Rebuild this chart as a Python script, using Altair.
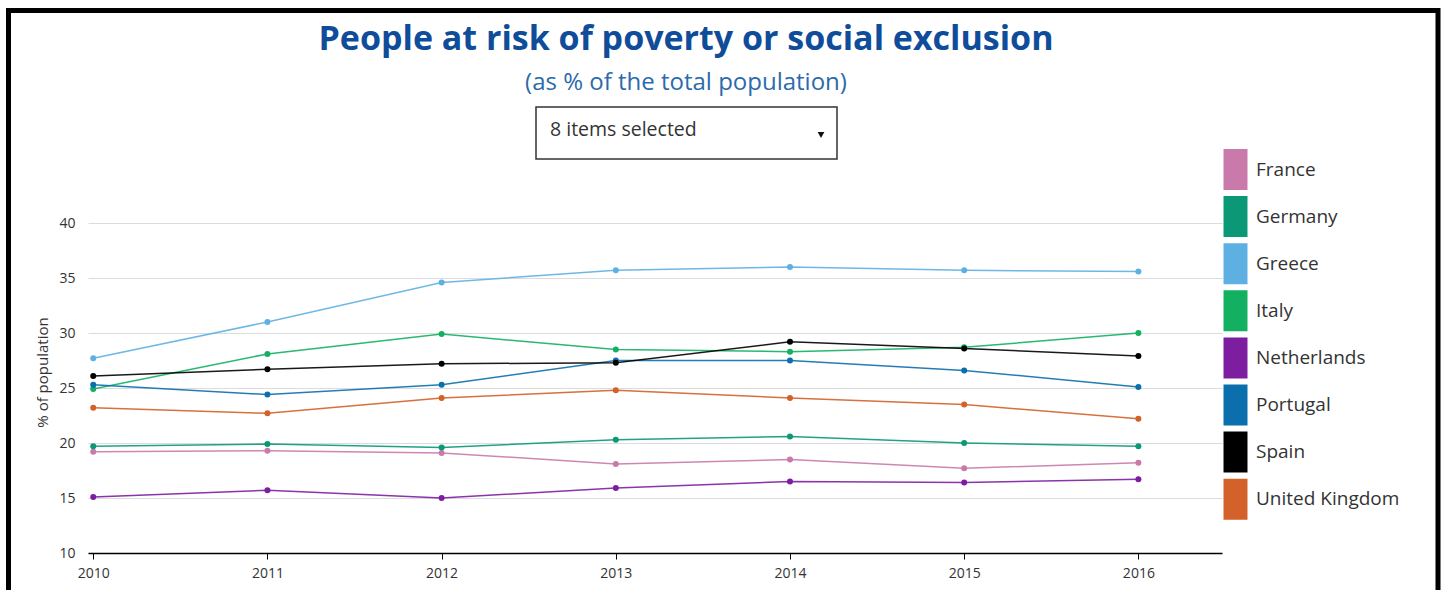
import altair as alt
import pandas as pd

years = [2010, 2011, 2012, 2013, 2014, 2015, 2016]
countries = ["France", "Germany", "Greece", "Italy", "Netherlands", "Portugal", "Spain", "United Kingdom"]
colors = ["#c97aab", "#0a9876", "#5fb0e2", "#12b060", "#7d1ea0", "#0b6fad", "#000000", "#d2612a"]

france = [19.2, 19.3, 19.1, 18.1, 18.5, 17.7, 18.2]
germany = [19.7, 19.9, 19.6, 20.3, 20.6, 20.0, 19.7]
greece = [27.7, 31.0, 34.6, 35.7, 36.0, 35.7, 35.6]
italy = [24.9, 28.1, 29.9, 28.5, 28.3, 28.7, 30.0]
netherlands = [15.1, 15.7, 15.0, 15.9, 16.5, 16.4, 16.7]
portugal = [25.3, 24.4, 25.3, 27.5, 27.5, 26.6, 25.1]
spain = [26.1, 26.7, 27.2, 27.3, 29.2, 28.6, 27.9]
uk = [23.2, 22.7, 24.1, 24.8, 24.1, 23.5, 22.2]

series = [france, germany, greece, italy, netherlands, portugal, spain, uk]
rows = []
for c, vals in zip(countries, series):
    for y, v in zip(years, vals):
        rows.append({"year": y, "country": c, "value": v})
df = pd.DataFrame(rows)

title_text = "People at risk of poverty or social exclusion"
subtitle_text = "(as % of the total population)"
dropdown_text = "8 items selected"

FONT = "Open Sans"

x_enc = alt.X("year:Q",
              scale=alt.Scale(domain=[2009.97, 2016.48], nice=False, zero=False),
              axis=alt.Axis(values=years, format="d", title=None, grid=False,
                            domainColor="#000000", domainWidth=1.5,
                            tickColor="#000000", tickSize=6, tickWidth=1,
                            labelFontSize=14, labelColor="#333333", labelPadding=7,
                            labelFont=FONT))
y_enc = alt.Y("value:Q",
              scale=alt.Scale(domain=[10, 40], nice=False, zero=False),
              axis=alt.Axis(values=[10, 15, 20, 25, 30, 35, 40], title="% of population",
                            domain=False, ticks=False, gridColor="#dcdcdc", gridWidth=1,
                            labelFontSize=14, labelColor="#333333", labelPadding=13,
                            labelFont=FONT, titleFont=FONT, titleFontSize=15,
                            titleFontWeight="normal", titleColor="#333333",
                            titleY=149, titlePadding=8))
color_enc = alt.Color("country:N",
                      scale=alt.Scale(domain=countries, range=colors),
                      legend=alt.Legend(title=None, orient="none", legendX=1127, legendY=-74,
                                        symbolType="M-0.585,-1H0.585V1H-0.585Z",
                                        symbolSize=1681, symbolStrokeWidth=0,
                                        symbolOpacity=1, rowPadding=6.1, padding=0,
                                        labelFontSize=19, labelColor="#333333",
                                        labelFont=FONT, labelOffset=0, labelLimit=300))

lines = alt.Chart(df).mark_line(strokeWidth=1.5, opacity=0.9).encode(
    x=x_enc, y=y_enc, color=color_enc, detail="country:N")
points = alt.Chart(df).mark_circle(size=36, opacity=1).encode(x=x_enc, y=y_enc, color=color_enc)

one = alt.Data(values=[{"k": 1}])

title = alt.Chart(one).mark_text(text=title_text, font=FONT, fontSize=34, fontWeight="bold",
                                 color="#0f4c9a", align="center", baseline="alphabetic").encode(
    x=alt.value(598), y=alt.value(-173))
subtitle = alt.Chart(one).mark_text(text=subtitle_text, font=FONT, fontSize=24,
                                    color="#2c6bab", align="center", baseline="alphabetic").encode(
    x=alt.value(598), y=alt.value(-133))
box = alt.Chart(one).mark_rect(fill="white", stroke="#333333", strokeWidth=1.5).encode(
    x=alt.value(448), x2=alt.value(749), y=alt.value(-116), y2=alt.value(-64))
box_text = alt.Chart(one).mark_text(text=dropdown_text, font=FONT, fontSize=19.5,
                                    color="#333333", align="left", baseline="middle").encode(
    x=alt.value(462), y=alt.value(-93))
arrow = alt.Chart(one).mark_point(shape="triangle-down", filled=True, size=45, color="#111111",
                                  opacity=1).encode(x=alt.value(733), y=alt.value(-88))
frame = alt.Chart(one).mark_rect(fill=None, stroke="#000000", strokeWidth=5).encode(
    x=alt.value(-79.5), x2=alt.value(1350), y=alt.value(-212.5), y2=alt.value(700))

chart = alt.layer(frame, title, subtitle, box, box_text, arrow, lines, points).properties(
    width=1134, height=330,
    background="white",
    padding={"left": 88, "top": 223, "right": 224, "bottom": 37},
    autosize=alt.AutoSizeParams(type="none"),
).configure_view(stroke=None)

chart.save("out.html", embed_options={"renderer": "svg", "actions": False})
